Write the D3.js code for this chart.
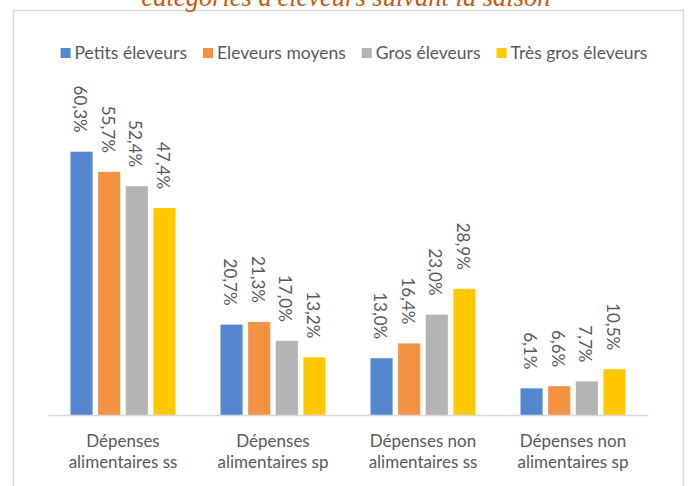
<!DOCTYPE html>
<html>
<head>
<meta charset="utf-8">
<script src="https://cdn.jsdelivr.net/npm/d3@7"></script>
<style>
  html, body { margin: 0; padding: 0; background: #fff; }
  svg { display: block; }
</style>
</head>
<body>
<svg id="chart" width="688" height="486"></svg>
<script>
const title = "catégories d'éleveurs suivant la saison";
const categories = [
  ["Dépenses", "alimentaires ss"],
  ["Dépenses", "alimentaires sp"],
  ["Dépenses non", "alimentaires ss"],
  ["Dépenses non", "alimentaires sp"]
];
const series = ["Petits éleveurs", "Eleveurs moyens", "Gros éleveurs", "Très gros éleveurs"];
const colors = ["#5587d0", "#f39243", "#b4b4b4", "#ffc800"];
const petits = [60.3, 20.7, 13.0, 6.1];
const moyens = [55.7, 21.3, 16.4, 6.6];
const gros = [52.4, 17.0, 23.0, 7.7];
const tresGros = [47.4, 13.2, 28.9, 10.5];
const values = [petits, moyens, gros, tresGros];

const svg = d3.select("#chart");
const font = "Lato, 'Open Sans', sans-serif";
const textColor = "#595959";

// outer border
svg.append("rect")
  .attr("x", 13.5).attr("y", 10.5)
  .attr("width", 670).attr("height", 490)
  .attr("fill", "#fff").attr("stroke", "#d9d9d9").attr("stroke-width", 1.5);

// title (clipped at top, as in the source)
svg.append("text")
  .attr("x", 346).attr("y", 6)
  .attr("text-anchor", "middle")
  .attr("font-family", "'Liberation Serif', serif")
  .attr("font-style", "italic")
  .attr("font-size", 26.5)
  .attr("fill", "#c55a11")
  .text(title);

const catKeys = categories.map(c => c.join(" "));
const x0 = d3.scaleBand().domain(catKeys).range([48, 648]);
const x1 = d3.scaleBand().domain(series).range([22.5, 127.5]).paddingInner(0.2);
const y = d3.scaleLinear().domain([0, 60.3]).range([415, 151.7]);

// bars
const groups = svg.append("g").selectAll("g")
  .data(catKeys)
  .join("g")
  .attr("transform", d => `translate(${x0(d)},0)`);

groups.selectAll("rect")
  .data((d, i) => series.map((s, j) => ({ s, j, v: values[j][i] })))
  .join("rect")
  .attr("x", d => x1(d.s))
  .attr("y", d => y(d.v))
  .attr("width", x1.bandwidth())
  .attr("height", d => y(0) - y(d.v))
  .attr("fill", d => colors[d.j]);

groups.selectAll("text.lbl")
  .data((d, i) => series.map((s, j) => ({ s, j, v: values[j][i] })))
  .join("text")
  .attr("class", "lbl")
  .attr("transform", d => `translate(${x1(d.s) + x1.bandwidth() / 2 - 1},${y(d.v) - 19}) rotate(90)`)
  .attr("text-anchor", "end")
  .attr("dominant-baseline", "central")
  .attr("font-family", font)
  .attr("font-size", 17)
  .attr("fill", textColor)
  .text(d => d.v.toFixed(1).replace(".", ",") + "%");

// axis
const axis = svg.append("g").attr("transform", "translate(0,415)")
  .call(d3.axisBottom(x0).tickSize(0).tickFormat(""));
axis.select(".domain").attr("stroke", "#d9d9d9").attr("stroke-width", 1.5);

categories.forEach((c, i) => {
  const t = svg.append("text")
    .attr("x", x0(catKeys[i]) + x0.bandwidth() / 2)
    .attr("text-anchor", "middle")
    .attr("font-family", font)
    .attr("font-size", 17)
    .attr("fill", textColor);
  c.forEach((line, k) => {
    t.append("tspan").attr("x", x0(catKeys[i]) + x0.bandwidth() / 2)
      .attr("y", 447 + k * 21).text(line);
  });
});

// legend
const legend = svg.append("g");
let lx = 0;
series.forEach((s, j) => {
  const g = legend.append("g").attr("transform", `translate(${lx},0)`);
  g.append("rect").attr("x", 0).attr("y", 48).attr("width", 10).attr("height", 10).attr("fill", colors[j]);
  const t = g.append("text").attr("x", 14).attr("y", 59)
    .attr("font-family", font).attr("font-size", 17.5).attr("fill", textColor).text(s);
  lx += 14 + t.node().getComputedTextLength() + 16;
});
const totalW = lx - 16;
legend.attr("transform", `translate(${354 - totalW / 2},0)`);
</script>
</body>
</html>
